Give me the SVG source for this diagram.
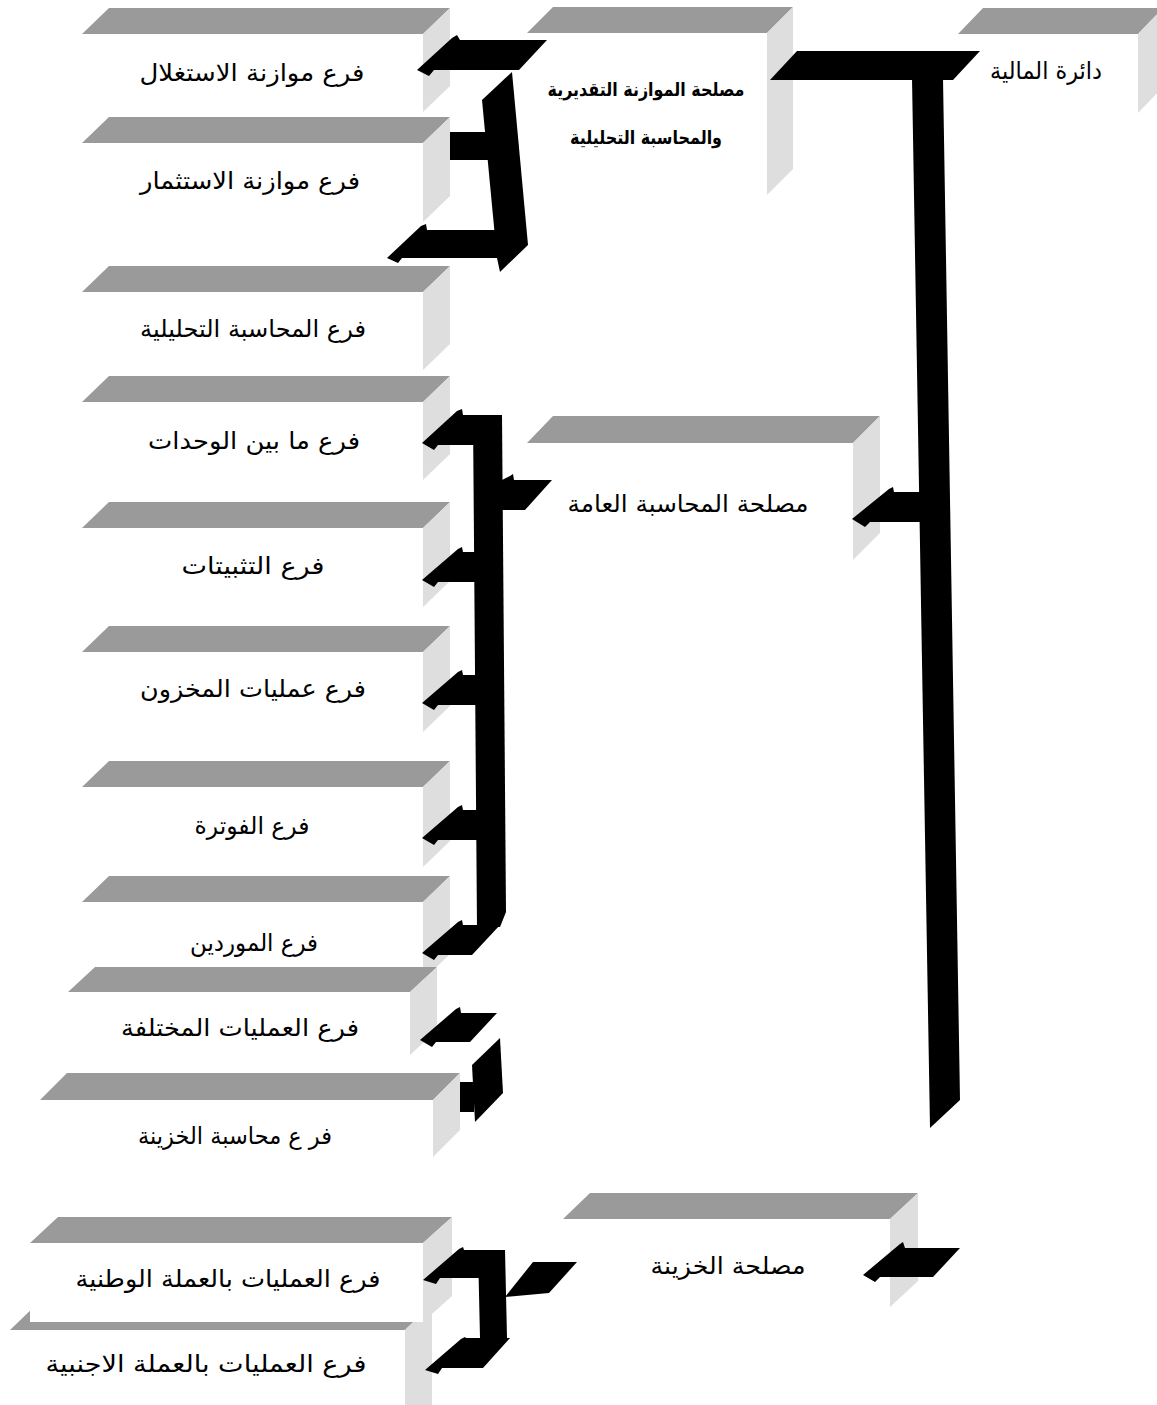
<svg xmlns="http://www.w3.org/2000/svg" width="1157" height="1405" viewBox="0 0 1157 1405">
<style>
.top{fill:#9a9a9a}
.side{fill:#dedede}
.front{fill:#ffffff}
.lbl{font-family:"DejaVu Sans",sans-serif;font-size:24px;fill:#000;text-anchor:middle}
.lblb{font-family:"DejaVu Sans",sans-serif;font-size:19px;font-weight:bold;fill:#000;text-anchor:middle}
.conn{fill:#000}
</style>
<rect width="1157" height="1405" fill="#fff"/>
<g id="node-dairat-almaliya">
<polygon class="top" points="958,34 983,8 1163,8 1138,34"/>
<polygon class="side" points="1138,34 1163,8 1163,87 1138,113"/>
<rect class="front" x="958" y="34" width="180" height="79"/>
<text class="lbl" x="1046" y="79" textLength="112" lengthAdjust="spacingAndGlyphs">دائرة المالية</text>
</g>
<g id="node-maslahat-almuwazana">
<polygon class="top" points="527,33 553,7 793,7 767,33"/>
<polygon class="side" points="767,33 793,7 793,169 767,195"/>
<rect class="front" x="527" y="33" width="240" height="162"/>
<text class="lblb" x="646" y="96" textLength="197" lengthAdjust="spacingAndGlyphs">مصلحة الموازنة التقديرية</text>
<text class="lblb" x="646" y="144" textLength="152" lengthAdjust="spacingAndGlyphs">والمحاسبة التحليلية</text>
</g>
<g id="node-maslahat-almuhasaba-alama">
<polygon class="top" points="527,443 553,416 880,416 853,443"/>
<polygon class="side" points="853,443 880,416 880,533 853,560"/>
<rect class="front" x="527" y="443" width="326" height="117"/>
<text class="lbl" x="688" y="512" textLength="241" lengthAdjust="spacingAndGlyphs">مصلحة المحاسبة  العامة</text>
</g>
<g id="node-maslahat-alkhazina">
<polygon class="top" points="563,1219 590,1193 918,1193 890,1219"/>
<polygon class="side" points="890,1219 918,1193 918,1281 890,1307"/>
<rect class="front" x="563" y="1219" width="327" height="88"/>
<text class="lbl" x="728" y="1274" textLength="155" lengthAdjust="spacingAndGlyphs">مصلحة الخزينة</text>
</g>
<g id="node-far1">
<polygon class="top" points="82,34 109,8 450,8 423,34"/>
<polygon class="side" points="423,34 450,8 450,86 423,112"/>
<rect class="front" x="82" y="34" width="341" height="78"/>
<text class="lbl" x="252" y="81" textLength="225" lengthAdjust="spacingAndGlyphs">فرع موازنة الاستغلال</text>
</g>
<g id="node-far2">
<polygon class="top" points="82,143 109,117 450,117 423,143"/>
<polygon class="side" points="423,143 450,117 450,196 423,222"/>
<rect class="front" x="82" y="143" width="341" height="79"/>
<text class="lbl" x="250" y="189" textLength="220" lengthAdjust="spacingAndGlyphs">فرع موازنة الاستثمار</text>
</g>
<g id="node-far3">
<polygon class="top" points="82,292 109,266 450,266 423,292"/>
<polygon class="side" points="423,292 450,266 450,344 423,370"/>
<rect class="front" x="82" y="292" width="341" height="78"/>
<text class="lbl" x="253" y="337" textLength="226" lengthAdjust="spacingAndGlyphs">فرع المحاسبة التحليلية</text>
</g>
<g id="node-far4">
<polygon class="top" points="82,402 109,376 450,376 423,402"/>
<polygon class="side" points="423,402 450,376 450,454 423,480"/>
<rect class="front" x="82" y="402" width="341" height="78"/>
<text class="lbl" x="254" y="449" textLength="212" lengthAdjust="spacingAndGlyphs">فرع ما بين الوحدات</text>
</g>
<g id="node-far5">
<polygon class="top" points="82,528 109,502 450,502 423,528"/>
<polygon class="side" points="423,528 450,502 450,581 423,607"/>
<rect class="front" x="82" y="528" width="341" height="79"/>
<text class="lbl" x="253" y="574" textLength="143" lengthAdjust="spacingAndGlyphs">فرع التثبيتات</text>
</g>
<g id="node-far6">
<polygon class="top" points="82,652 109,626 450,626 423,652"/>
<polygon class="side" points="423,652 450,626 450,706 423,732"/>
<rect class="front" x="82" y="652" width="341" height="80"/>
<text class="lbl" x="253" y="697" textLength="226" lengthAdjust="spacingAndGlyphs">فرع عمليات المخزون</text>
</g>
<g id="node-far7">
<polygon class="top" points="82,787 109,761 450,761 423,787"/>
<polygon class="side" points="423,787 450,761 450,841 423,867"/>
<rect class="front" x="82" y="787" width="341" height="80"/>
<text class="lbl" x="252" y="834" textLength="115" lengthAdjust="spacingAndGlyphs">فرع الفوترة</text>
</g>
<g id="node-far8">
<polygon class="top" points="82,902 109,876 450,876 423,902"/>
<polygon class="side" points="423,902 450,876 450,954 423,980"/>
<rect class="front" x="82" y="902" width="341" height="78"/>
<text class="lbl" x="254" y="951" textLength="128" lengthAdjust="spacingAndGlyphs">فرع الموردين</text>
</g>
<g id="node-far9">
<polygon class="top" points="68,992 95,967 437,967 410,992"/>
<polygon class="side" points="410,992 437,967 437,1030 410,1055"/>
<rect class="front" x="68" y="992" width="342" height="63"/>
<text class="lbl" x="240" y="1036" textLength="238" lengthAdjust="spacingAndGlyphs">فرع العمليات المختلفة</text>
</g>
<g id="node-far10">
<polygon class="top" points="40,1100 67,1073 460,1073 433,1100"/>
<polygon class="side" points="433,1100 460,1073 460,1130 433,1157"/>
<rect class="front" x="40" y="1100" width="393" height="57"/>
<text class="lbl" x="235" y="1144" textLength="194" lengthAdjust="spacingAndGlyphs">فر ع محاسبة الخزينة</text>
</g>
<g id="node-far12">
<polygon class="top" points="10,1330 37,1304 432,1304 405,1330"/>
<polygon class="side" points="405,1330 432,1304 432,1405 405,1405"/>
<rect class="front" x="10" y="1330" width="395" height="75"/>
<text class="lbl" x="206" y="1372" textLength="321" lengthAdjust="spacingAndGlyphs">فرع العمليات بالعملة الاجنبية</text>
</g>
<g id="node-far11">
<polygon class="top" points="30,1243 58,1217 452,1217 423,1243"/>
<polygon class="side" points="423,1243 452,1217 452,1296 423,1322"/>
<rect class="front" x="30" y="1243" width="393" height="79"/>
<text class="lbl" x="228" y="1287" textLength="305" lengthAdjust="spacingAndGlyphs">فرع العمليات بالعملة الوطنية</text>
</g>
<g id="connectors">
<polygon class="conn" points="770,80 797,51 980,51 953,80"/>
<polygon class="conn" points="912,78 943,78 960,1100 930,1128"/>
<polygon class="conn" points="852,519 889,489 893,487 894,492 922,492 922,522 870,522 865,527"/>
<polygon class="conn" points="417,70 452,38 457,35 460,40 547,40 519,70 434,70 429,76"/>
<polygon class="conn" points="482,100 512,72 528,245 500,272 497,258"/>
<rect class="conn" x="450" y="132" width="38" height="28"/>
<polygon class="conn" points="387,258 421,226 426,224 427,230 497,230 497,258 402,258 398,263"/>
<polygon class="conn" points="473,415 502,415 506,912 500,927 477,927"/>
<polygon class="conn" points="422,443 457,411 462,409 463,415 502,415 502,445 438,445 434,450"/>
<polygon class="conn" points="422,580 458,549 462,547 463,552 480,552 480,582 438,582 434,587"/>
<polygon class="conn" points="422,703 458,672 462,670 463,675 480,675 480,705 438,705 434,710"/>
<polygon class="conn" points="422,838 458,807 462,805 463,810 480,810 480,840 438,840 434,845"/>
<polygon class="conn" points="422,953 458,922 462,920 463,925 500,925 472,955 438,955 434,960"/>
<polygon class="conn" points="502,480 510,476 513,474 514,480 552,480 525,510 502,510"/>
<polygon class="conn" points="420,1040 456,1009 460,1007 461,1013 497,1013 470,1042 436,1042 432,1047"/>
<polygon class="conn" points="472,1065 500,1038 503,1093 475,1122"/>
<rect class="conn" x="460" y="1082" width="14" height="30"/>
<polygon class="conn" points="863,1275 900,1244 903,1242 905,1248 960,1248 933,1277 880,1277 875,1282"/>
<polygon class="conn" points="478,1250 505,1250 507,1338 480,1338"/>
<polygon class="conn" points="423,1280 459,1249 463,1247 464,1250 505,1250 505,1278 440,1278 436,1284"/>
<polygon class="conn" points="425,1370 461,1339 465,1337 466,1338 510,1338 483,1368 442,1368 438,1374"/>
<polygon class="conn" points="505,1297 533,1262 577,1262 549,1293"/>
</g>
</svg>
